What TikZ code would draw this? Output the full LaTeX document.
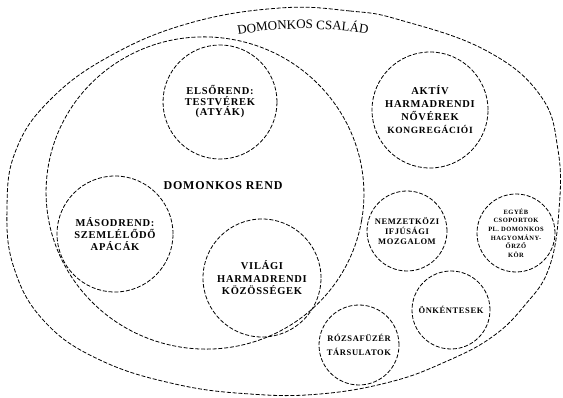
\documentclass[tikz,border=0pt]{standalone}
\usepackage{fontspec}
\setmainfont{Liberation Serif}
\newfontfamily\spacedserif[LetterSpace=7]{Liberation Serif}
\newcommand{\cfont}[2]{\spacedserif\bfseries\fontsize{#1}{#2}\selectfont}
\usetikzlibrary{decorations.text}
\begin{document}
\begin{tikzpicture}[x=1pt,y=1pt,
  dsh/.style={dash pattern=on 4pt off 1.8pt, line width=0.8pt},
  orb/.style={circle, draw, dsh, inner sep=0pt, align=center}]
\useasboundingbox (0,0) rectangle (563,-398);
% outer shape: Domonkos család
\draw[dsh] plot[smooth cycle, tension=0.7] coordinates {
  (280,-8) (350,-11) (400,-20) (485,-50) (540,-95) (558,-150) (559,-210)
  (549,-268) (525,-305) (492,-337) (445,-362) (390,-382) (320,-394)
  (250,-394) (175,-384) (100,-360) (45,-322) (14,-268) (7,-207)
  (16,-150) (50,-100) (110,-56) (190,-23)};
% inner shape: Domonkos rend
\draw[dsh, rotate around={-10:(205,-193)}] (205,-193) ellipse [x radius=159, y radius=156];
\path[decorate, decoration={text along path, text align=center,
  text={|\fontsize{13}{15}\selectfont|DOMONKOS CSALÁD}}]
  (236,-35) .. controls (280,-27) and (325,-27) .. (370,-34);
\node[font=\cfont{12}{13}] (order) at (223,-186) {DOMONKOS REND};
\node[orb, minimum size=114pt, font=\cfont{10.5}{10.5}] (first) at (220,-102)
  {ELSŐREND:\\TESTVÉREK\\(ATYÁK)};
\node[orb, minimum size=116pt, font=\cfont{10.5}{13}] (active) at (430,-110)
  {AKTÍV\\HARMADRENDI\\NŐVÉREK\\{\fontsize{9.5}{13}\selectfont KONGREGÁCIÓI}};
\node[orb, minimum size=116pt, font=\cfont{10.5}{12}] (second) at (115,-234)
  {MÁSODREND:\\SZEMLÉLŐDŐ\\APÁCÁK};
\node[orb, minimum size=118pt, font=\cfont{10.5}{12.5}] (lay) at (262,-278)
  {VILÁGI\\HARMADRENDI\\KÖZÖSSÉGEK};
\node[orb, minimum size=80pt, font=\cfont{8.5}{10}] (youth) at (407,-231)
  {NEMZETKÖZI\\IFJÚSÁGI\\MOZGALOM};
\node[orb, minimum size=78pt, font=\cfont{6.5}{8.6}] (other) at (516,-233)
  {EGYÉB\\CSOPORTOK\\PL. DOMONKOS\\HAGYOMÁNY-\\ŐRZŐ\\KÖR};
\node[orb, minimum size=78pt, font=\cfont{8.5}{10}] (vol) at (451,-310)
  {ÖNKÉNTESEK};
\node[orb, minimum size=80pt, font=\cfont{8.5}{14}] (rosary) at (359,-345)
  {RÓZSAFÜZÉR\\TÁRSULATOK};
\end{tikzpicture}
\end{document}
